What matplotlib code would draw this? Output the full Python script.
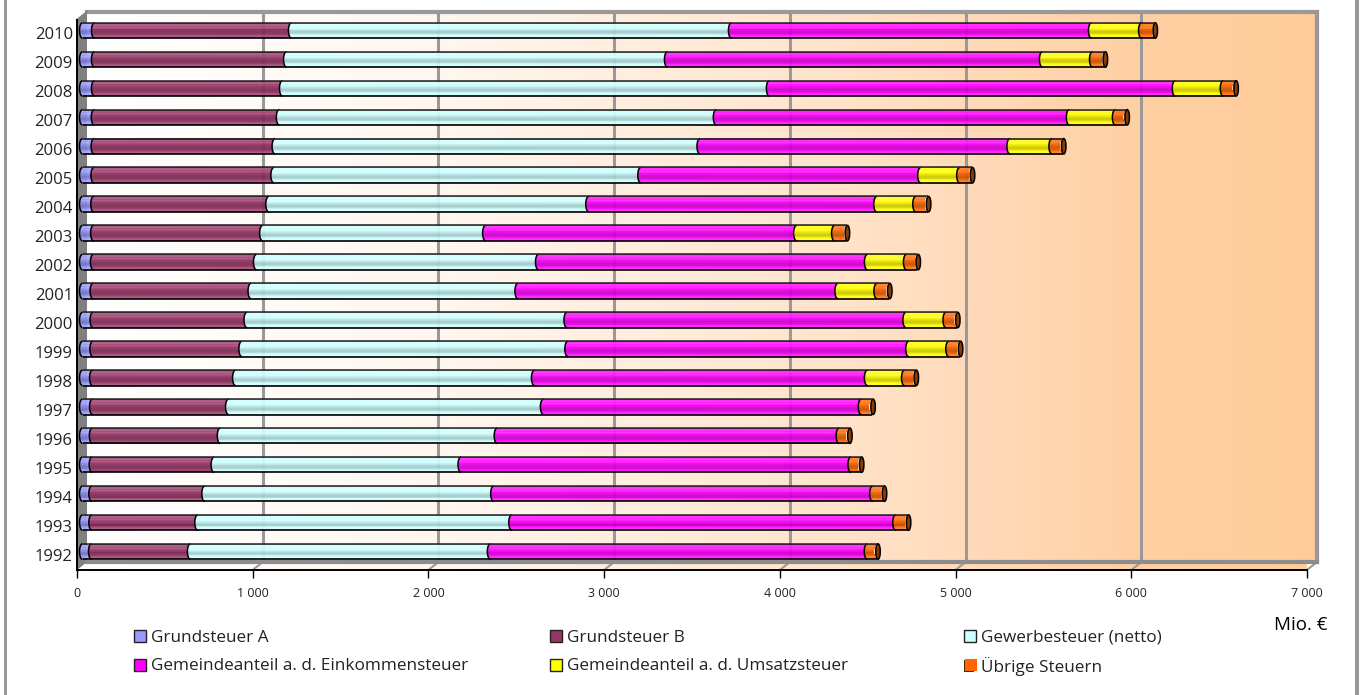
import numpy as np
import matplotlib
matplotlib.use('Agg')
import matplotlib.pyplot as plt
from matplotlib.colors import LinearSegmentedColormap, to_rgb
from matplotlib.patches import Polygon, Rectangle, Arc, Ellipse
from matplotlib.transforms import offset_copy, ScaledTranslation

plt.rcParams['font.family'] = ['Open Sans', 'DejaVu Sans']

years = list(range(1992, 2011))
grundsteuer_a = [51, 53, 53, 55, 56, 57, 57, 59, 60, 60, 62, 63, 64, 65, 66, 67, 68, 68, 68]
grundsteuer_b = [563, 603, 643, 694, 728, 774, 814, 848, 876, 899, 928, 962, 996, 1024, 1030, 1053, 1070, 1093, 1121]
gewerbesteuer = [1707, 1787, 1644, 1405, 1576, 1792, 1701, 1855, 1821, 1519, 1605, 1269, 1821, 2088, 2418, 2487, 2771, 2168, 2504]
einkommen = [2145, 2185, 2157, 2219, 1946, 1809, 1895, 1940, 1929, 1821, 1872, 1770, 1639, 1593, 1764, 2009, 2310, 2134, 2049]
umsatz = [0, 0, 0, 0, 0, 0, 211, 228, 228, 222, 222, 216, 222, 222, 239, 262, 273, 285, 285]
uebrige = [57, 69, 63, 57, 57, 63, 63, 63, 63, 69, 63, 69, 69, 69, 63, 63, 69, 69, 74]

series = [grundsteuer_a, grundsteuer_b, gewerbesteuer, einkommen, umsatz, uebrige]
labels = ['Grundsteuer A', 'Grundsteuer B', 'Gewerbesteuer (netto)',
          'Gemeindeanteil a. d. Einkommensteuer', 'Gemeindeanteil a. d. Umsatzsteuer', 'Übrige Steuern']
colors = ['#9999FF', '#993366', '#CCFFFF', '#FF00FF', '#FFFF00', '#FF6600']
xticks = [0, 1000, 2000, 3000, 4000, 5000, 6000, 7000]
xticklabels = ['0', '1 000', '2 000', '3 000', '4 000', '5 000', '6 000', '7 000']

W, H = 1360, 695
fig = plt.figure(figsize=(W / 100, H / 100), dpi=100)
ax = fig.add_axes([77 / W, 1 - 570 / H, (1307 - 77) / W, 550 / H])
ax.set_xlim(0, 7000)
ax.set_ylim(-0.5, 18.5)
for s in ax.spines.values():
    s.set_visible(False)

# pseudo 3d: wall is shifted back, bars sit half way
back = offset_copy(ax.transData, fig=fig, x=10, y=8, units='dots')
mid = offset_copy(ax.transData, fig=fig, x=5.5, y=4, units='dots')
px_x = 7000 / 1230
px_y = 19 / 550
dx, dy = 10 * px_x, 8 * px_y

wall_cmap = LinearSegmentedColormap.from_list('wall', [(0, '#FFFFFF'), (0.3, '#FFF6EE'), (0.6, '#FFE4CC'),
                                                      (0.85, '#FFD0A4'), (1, '#FFCC99')])
grad = np.linspace(0, 1, 512).reshape(1, -1)
ax.imshow(grad, extent=[0, 7000, -0.5, 18.5], aspect='auto', cmap=wall_cmap, transform=back, zorder=0, clip_on=False)

# floor, same gradient
floor_poly = Polygon([(0, -0.5), (7000, -0.5), (7000 + dx, -0.5 + dy), (dx, -0.5 + dy)],
                     transform=ax.transData, fc='none', ec='none')
ax.add_patch(floor_poly)
floor = ax.imshow(grad, extent=[0, 7000 + dx, -0.5, -0.5 + dy], aspect='auto', cmap=wall_cmap, zorder=0, clip_on=True)
floor.set_clip_path(floor_poly)
ax.set_xlim(0, 7000)
ax.set_ylim(-0.5, 18.5)

# left wall
ax.add_patch(Polygon([(0, -0.5), (dx, -0.5 + dy), (dx, 18.5 + dy), (0, 18.5)],
                     fc='#808080', ec='none', zorder=1, clip_on=False))

# grid on wall and floor
grid_c = '#999999'
for t in xticks[1:-1]:
    ax.plot([t, t], [-0.5, 18.5], color=grid_c, lw=2.2, transform=back, zorder=1, clip_on=False, solid_capstyle='butt')
for t in xticks[1:]:
    ax.plot([t, t + dx], [-0.5, -0.5 + dy], color=grid_c, lw=1.5, zorder=1, clip_on=False)
ax.plot([0, 7000, 7000], [18.5, 18.5, -0.5], color=grid_c, lw=3, transform=back, zorder=1, clip_on=False,
        solid_joinstyle='miter')
ax.plot([0, 7000], [-0.5, -0.5], color='#8C8C8C', lw=3, transform=back, zorder=1, clip_on=False)
ax.plot([0, dx], [18.5, 18.5 + dy], color='#808080', lw=1.5, zorder=1, clip_on=False)

# bars: horizontal strips give the cylinder shading, ends follow the ellipse
y = np.arange(len(years))
bar_h = 15.5 / 28.95
cap_a = 3 * px_x
n_strips = 16
t = (np.arange(n_strips) + 0.5) / n_strips * 2 - 1
# strips run bottom to top here
shade = np.array([-0.1, 0.15, 0.08, -0.05, -0.15, -0.2, -0.2, -0.15, -0.1, -0.05, 0.05, 0.15, 0.08, 0.18, 0.15, -0.3])
starts = np.zeros(len(years))
for vals, col in zip(series, colors):
    vals = np.array(vals, dtype=float)
    rgb = np.array(to_rgb(col))
    for k in range(n_strips):
        curve = cap_a * np.sqrt(1 - t[k] ** 2)
        c = rgb * (1 + shade[k]) if shade[k] < 0 else rgb + (1 - rgb) * shade[k]
        ax.barh(y + t[k] * bar_h / 2, vals, left=starts - curve, height=bar_h / n_strips * 1.05,
                color=c, linewidth=0, alpha=0.93, transform=mid, zorder=3, clip_on=False)
    starts = starts + vals
    for yy, st, v in zip(y, starts, vals):
        if v > 0 and col != colors[-1]:
            ax.add_patch(Arc((st, yy), 2 * cap_a, bar_h, theta1=90, theta2=270, color='black', lw=1.1,
                             transform=mid, zorder=4, clip_on=False))

for yy, st in zip(y, starts):
    ax.add_patch(Arc((0, yy), 2 * cap_a, bar_h, theta1=90, theta2=270, color='black', lw=1.1,
                     transform=mid, zorder=4, clip_on=False))
    ax.add_patch(Ellipse((st + 0.75 * px_x, yy), 1.5 * cap_a, bar_h, fc='#8A3C08', ec='black', lw=1.1,
                         transform=mid, zorder=4, clip_on=False))
ax.hlines(y + bar_h / 2, 0, starts, color='#222222', lw=1.1, transform=mid, zorder=4, clip_on=False)
ax.hlines(y - bar_h / 2, 0, starts, color='black', lw=1.2, transform=mid, zorder=4, clip_on=False)

# front axes
ax.plot([0, 0], [-0.5, 18.5], color='black', lw=1.4, zorder=5, clip_on=False)
ax.plot([0, 7000], [-0.5, -0.5], color='black', lw=1.4, zorder=5, clip_on=False)
ax.set_xticks(xticks)
ax.set_xticklabels(xticklabels, fontsize=9, color='#222222')
ax.set_yticks(y)
ax.set_yticklabels(years, fontsize=12, color='#222222')
ax.tick_params(axis='x', length=6, width=1, pad=6, color='black')
ax.tick_params(axis='y', length=0, pad=3)
for lab in ax.get_yticklabels():
    lab.set_transform(lab.get_transform() + ScaledTranslation(0, 1 / 100, fig.dpi_scale_trans))

# legend, placed by hand to keep the wide columns
leg_x = [134, 550, 964]
leg_y = [636, 665]
leg_items = [(0, 0, 0), (1, 0, 1), (2, 0, 2), (0, 1, 3), (1, 1, 4), (2, 1, 5)]
for cx, ry, idx in leg_items:
    x0, y0 = leg_x[cx], leg_y[ry]
    if idx == 5:
        # last key shows the dark cap behind the orange square
        fig.patches.append(Rectangle((x0 / W, 1 - (y0 + 7) / H), 10 / W, 12 / H, transform=fig.transFigure,
                                     fc='#4A2A10', ec='none'))
        fig.patches.append(Rectangle(((x0 + 1) / W, 1 - (y0 + 6) / H), 12 / W, 12 / H, transform=fig.transFigure,
                                     fc=colors[idx], ec='none'))
    else:
        fig.patches.append(Rectangle((x0 / W, 1 - (y0 + 6) / H), 12 / W, 12 / H, transform=fig.transFigure,
                                     fc=colors[idx], ec='#222222', lw=1))
    fig.text((x0 + 17) / W, 1 - (y0 + 1.5) / H, labels[idx], fontsize=12.3, va='center', ha='left', color='#222222')

fig.text(1327 / W, 1 - 625 / H, 'Mio. €', fontsize=13.5, va='center', ha='right', color='black', fontweight='medium')

# outer frame
for xf, wf in ((4, 3.3), (1355, 4)):
    fig.patches.append(Rectangle((xf / W, 0), wf / W, 1, transform=fig.transFigure, fc='#999999', ec='none'))

fig.savefig('out.png', dpi=100)
